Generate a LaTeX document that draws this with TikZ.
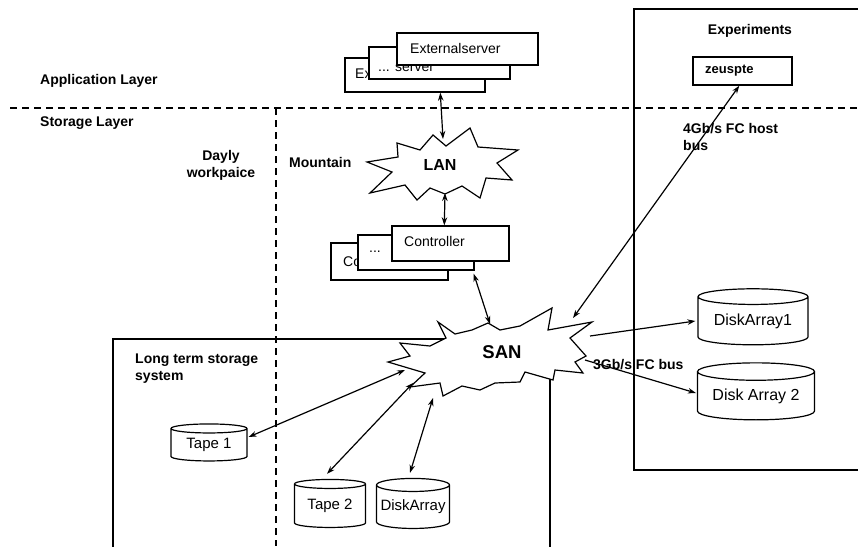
\documentclass[tikz,border=0pt]{standalone}
\usepackage{fontspec}
\setmainfont{Liberation Sans}
\usetikzlibrary{shapes.geometric,arrows.meta,calc}
\begin{document}
\begin{tikzpicture}[x=1pt,y=-1pt,
  lbl/.style={font=\fontsize{14}{17}\selectfont\bfseries, inner sep=0pt, align=left},
  box/.style={draw, fill=white, line width=1.4pt, inner sep=0pt},
  btxt/.style={font=\fontsize{14}{16}\selectfont, inner sep=0pt, anchor=west},
  cyl/.style={cylinder, shape border rotate=90, aspect=0.2, draw, fill=white, line width=1.2pt, inner sep=0pt, font=\fontsize{15}{17}\selectfont},
  burst/.style={draw, fill=white, line width=1.2pt, line join=miter},
  link/.style={line width=1.2pt, {Stealth[length=8pt,width=5.5pt]}-{Stealth[length=8pt,width=5.5pt]}},
  onelink/.style={line width=1.2pt, -{Stealth[length=8pt,width=5.5pt]}},
  dline/.style={line width=1.4pt, dash pattern=on 7pt off 5pt},
  frame/.style={draw, line width=1.4pt, inner sep=0pt},
]
\useasboundingbox (0,0) rectangle (858,546);

% frames
\node[frame, minimum width=437pt, minimum height=221pt] (lts) at (331.5,449.5) {};
\node[frame, minimum width=226pt, minimum height=461pt] (exp) at (747,239.5) {};

% dashed separators
\draw[dline] (10,108) -- (858,108);
\draw[dline] (276,108) -- (276,546);

% layer labels
\node[lbl, anchor=west] (applayer) at (40,81) {Application Layer};
\node[lbl, anchor=west] (storlayer) at (40,123) {Storage Layer};
\node[lbl, align=center] (daily) at (221,165) {Dayly\\workpaice};
\node[lbl, anchor=west] (mount) at (289,162) {Mountain};
\node[lbl] (explbl) at (750,31) {Experiments};
\node[lbl, anchor=north west] (ltslbl) at (135,354) {Long term storage\\system};

% external servers
\node[box, minimum width=140pt, minimum height=34pt] (extA) at (415,75) {};
\node[btxt] (extAt) at (355,73) {Externalserver};
\node[box, minimum width=141pt, minimum height=32pt] (extB) at (439.5,63) {};
\node[btxt] (extBt) at (378,68) {... server};
\node[box, minimum width=141pt, minimum height=32pt] (extC) at (467.5,49) {};
\node[btxt] (extCt) at (410,48) {Externalserver};

% controllers
\node[box, minimum width=117pt, minimum height=37pt] (ctrlA) at (389.5,261.5) {};
\node[btxt] (ctrlAt) at (343,261) {Controller};
\node[box, minimum width=116pt, minimum height=35pt] (ctrlB) at (416,252.5) {};
\node[btxt] (ctrlBt) at (369,252) {...};
\node[box, minimum width=117pt, minimum height=35pt] (ctrlC) at (450.5,243.5) {};
\node[btxt] (ctrlCt) at (404,241) {Controller};

% experiment host
\node[box, minimum width=99pt, minimum height=28pt] (zau) at (742.5,71) {};
\node[lbl, anchor=west, font=\fontsize{13}{15}\selectfont\bfseries] (zaut) at (705,71) {zeuspte};

% LAN star
\draw[burst] (367,162) -- (398,157) -- (397,143) -- (420,150) -- (433,135) -- (446,146)
  -- (470,128) -- (478,147) -- (518,150) -- (497,163) -- (512,180) -- (486,178)
  -- (480,198) -- (462,186) -- (445,194) -- (430,188) -- (417,200) -- (405,185)
  -- (370,193) -- (392,172) -- cycle;
\node[font=\fontsize{16}{18}\selectfont\bfseries] (lan) at (440,165) {LAN};

% SAN star
\draw[burst] (438,322) -- (455,334) -- (472,330) -- (488,323) -- (500,330) -- (520,326)
  -- (552,308) -- (548,330) -- (592,322) -- (570,338) -- (586,356) -- (575,362)
  -- (583,373) -- (555,370) -- (553,380) -- (525,372) -- (520,382) -- (495,383)
  -- (480,390) -- (462,386) -- (443,396) -- (440,383) -- (410,387) -- (425,373)
  -- (388,362) -- (410,356) -- (400,343) -- (430,346) -- (446,338) -- cycle;
\node[font=\fontsize{18.5}{20}\selectfont\bfseries] (san) at (502,352) {SAN};

% storage cylinders
\node[cyl, minimum width=76pt, minimum height=37pt] (tape1) at (209,445) {Tape 1};
\node[cyl, minimum width=71pt, minimum height=48pt] (tape2) at (330,506) {Tape 2};
\node[cyl, minimum width=73pt, minimum height=50pt] (dsk) at (413,507) {DiskArray};
\node[cyl, minimum width=110pt, minimum height=56pt, font=\fontsize{16}{18}\selectfont] (da1) at (753,321) {DiskArray1};
\node[cyl, minimum width=117pt, minimum height=57pt, font=\fontsize{16}{18}\selectfont] (da2) at (756,396) {Disk Array 2};

% connectors
\draw[link] ($(extA.south west)+(96,0)$) -- ($(lan)+(3,-26)$);
\draw[link] ($(lan)+(5,28)$) -- ($(ctrlC.north west)+(53,0)$);
\draw[link] ($(ctrlB.south east)+(-1,3)$) -- ($(san)+(-12,-28)$);
\draw[link] ($(zau.south west)+(47,0)$) -- ($(san)+(71,-34)$);
\draw[onelink] ($(san)+(88,-16)$) -- ($(da1.west)+(-2,0)$);
\draw[onelink] ($(san)+(83,8)$) -- ($(da2.west)+(-1,-3)$);
\draw[link] ($(san)+(-97,18)$) -- ($(tape1.east)+(1,-8)$);
\draw[link] ($(san)+(-89,31)$) -- ($(tape2.north)+(-3,-5)$);
\draw[link] ($(san)+(-69,46)$) -- ($(dsk.north)+(-3,-5)$);

% bus labels
\node[lbl, anchor=north west] (hostbus) at (683,123) {4Gb/s FC host\\bus};
\node[lbl, anchor=west] (fcbus) at (593,365) {3Gb/s FC bus};
\end{tikzpicture}
\end{document}
